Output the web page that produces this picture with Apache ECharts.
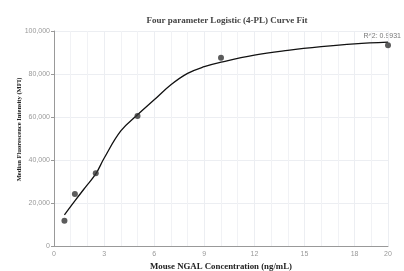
<!DOCTYPE html>
<html>
<head>
<meta charset="utf-8">
<script src="https://cdn.jsdelivr.net/npm/echarts@6/dist/echarts.min.js"></script>
<style>
  html, body { margin: 0; padding: 0; background: #fff; }
  #chart { width: 404px; height: 271px; }
</style>
</head>
<body>
<div id="chart"></div>
<script>
// measured standards
var concX = [0.625, 1.25, 2.5, 5, 10, 20];
var mfiY = [11800, 24200, 33800, 60500, 87600, 93400];

// fitted curve
var fitX = [0.625, 1.25, 1.875, 2.5, 3, 4, 5, 6, 7, 8, 9, 10, 12, 14, 16, 18, 20];
var fitY = [14500, 21000, 27300, 33500, 40800, 53500, 61000, 68000, 75000, 80300, 83400, 85500, 88800, 91000, 92700, 94000, 94800];

var rSquared = 'R^2: 0.9931';

var myChart = echarts.init(document.getElementById('chart'));

var pts = concX.map(function (x, i) { return [x, mfiY[i]]; });
var fit = fitX.map(function (x, i) { return [x, fitY[i]]; });

var serif = '"Liberation Serif", "DejaVu Serif", serif';

var option = {
    animation: false,
    title: {
        text: 'Four parameter Logistic (4-PL) Curve Fit',
        left: 222,
        textAlign: 'center',
        top: 11,
        textStyle: { fontFamily: serif, fontWeight: 'bold', fontSize: 9, color: '#444' }
    },
    graphic: [{
        type: 'text',
        right: 3,
        top: 33,
        style: { text: rSquared, fontSize: 7, fill: '#777', fontFamily: 'Arial, sans-serif' }
    }],
    grid: { left: 54, right: 16, top: 31, bottom: 25, outerBoundsMode: 'none' },
    xAxis: {
        type: 'value',
        min: 0,
        max: 20,
        interval: 3,
        name: 'Mouse NGAL Concentration (ng/mL)',
        nameLocation: 'middle',
        nameGap: 16,
        nameMoveOverlap: false,
        nameTextStyle: { fontFamily: serif, fontWeight: 'bold', fontSize: 8.8, color: '#222' },
        axisLine: { lineStyle: { color: '#999' } },
        axisTick: { show: false },
        axisLabel: { fontSize: 7, color: '#999', margin: 5 },
        splitLine: { lineStyle: { color: '#eceef2' } },
        minorTick: { show: false, splitNumber: 3 },
        minorSplitLine: { show: true, lineStyle: { color: '#f1f2f5' } }
    },
    yAxis: {
        type: 'value',
        min: 0,
        max: 100000,
        interval: 20000,
        name: 'Median Fluorescence Intensity (MFI)',
        nameLocation: 'middle',
        nameGap: 31,
        nameMoveOverlap: false,
        nameTextStyle: {
            fontFamily: serif, fontWeight: 'bold', fontSize: 6.5, color: '#222',
            padding: [0, 0, 0, 18]
        },
        axisLine: { show: true, lineStyle: { color: '#999' } },
        axisTick: { show: true, length: 3, lineStyle: { color: '#999' } },
        axisLabel: {
            fontSize: 7, color: '#999', margin: 4,
            formatter: function (v) { return v.toLocaleString('en-US'); }
        },
        splitLine: { lineStyle: { color: '#eceef2' } }
    },
    series: [
        {
            name: 'fit',
            type: 'line',
            data: fit,
            smooth: 0.4,
            showSymbol: false,
            lineStyle: { color: '#111', width: 1.3 },
            z: 2
        },
        {
            name: 'std',
            type: 'scatter',
            data: pts,
            symbolSize: 6,
            itemStyle: { color: '#333' },
            z: 3
        }
    ]
};
myChart.setOption(option);
</script>
</body>
</html>
